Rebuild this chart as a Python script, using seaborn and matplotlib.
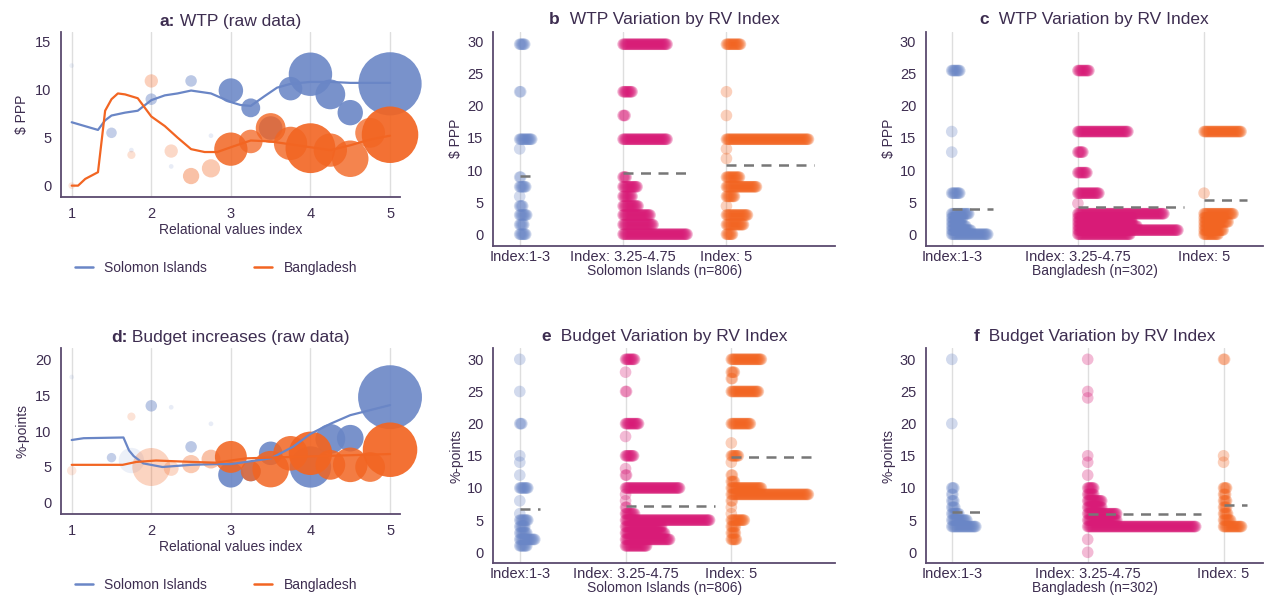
import numpy as np
import pandas as pd
import matplotlib
matplotlib.use("Agg")
import matplotlib.pyplot as plt
from matplotlib.lines import Line2D
from matplotlib.colors import to_rgba
from matplotlib.offsetbox import TextArea, HPacker, AnchoredOffsetbox
import seaborn as sns

# ==========================================
# colours
# ==========================================
BLUE = "#6a86c6"
ORANGE = "#f26522"
PINK = "#d81b77"
INK = "#3d2d50"
AXC = "#5b4a6e"
GRID = "#dedede"

# ==========================================
# panel a: WTP raw data (mean WTP per index value, n, shading)
# ==========================================
a_si_x = [1, 1.5, 1.75, 2, 2.25, 2.5, 2.75, 3, 3.25, 3.5, 3.75, 4, 4.25, 4.5, 5]
a_si_y = [12.5, 5.5, 3.7, 9.0, 2.0, 10.9, 5.2, 9.9, 8.1, 6.0, 10.1, 11.6, 9.5, 7.6, 10.6]
a_si_n = [1, 5, 1, 6, 1, 6, 1, 27, 16, 25, 25, 85, 40, 29, 180]
a_si_w = [0.12, 0.4, 0.15, 0.45, 0.15, 0.45, 0.15, 0.88, 0.85, 0.88, 0.88, 0.9, 0.9, 0.9, 0.9]

a_bd_x = [1, 1.75, 2, 2.25, 2.5, 2.75, 3, 3.25, 3.5, 3.75, 4, 4.25, 4.5, 4.75, 5]
a_bd_y = [0, 3.2, 10.9, 3.6, 1.0, 1.8, 3.8, 4.6, 6.0, 4.4, 3.9, 3.7, 2.8, 5.5, 5.3]
a_bd_n = [2, 3, 8, 8, 12, 15, 50, 25, 40, 50, 112, 50, 60, 40, 144]
a_bd_w = [0.15, 0.2, 0.3, 0.25, 0.4, 0.35, 0.85, 0.75, 0.8, 0.8, 0.9, 0.8, 0.8, 0.75, 0.92]

# smoothed lines
a_si_lx = [1, 1.33, 1.42, 1.5, 1.67, 1.83, 2, 2.17, 2.33, 2.5, 2.75, 3, 3.12, 3.25,
           3.42, 3.58, 3.75, 4, 4.25, 4.5, 5]
a_si_ly = [6.6, 5.8, 6.8, 7.3, 7.6, 7.8, 8.9, 9.4, 9.6, 9.9, 9.6, 8.7, 8.4, 8.3,
           9.3, 10.2, 10.6, 10.8, 10.8, 10.7, 10.7]
a_bd_lx = [1, 1.08, 1.17, 1.33, 1.42, 1.5, 1.58, 1.67, 1.83, 2, 2.17, 2.33, 2.5, 2.67,
           2.83, 3, 3.25, 3.5, 3.75, 4, 4.25, 4.5, 4.75, 5]
a_bd_ly = [0, 0, 0.7, 1.4, 7.8, 9.0, 9.6, 9.5, 9.1, 7.2, 6.2, 5.0, 3.8, 3.5,
           3.5, 4.0, 4.7, 4.6, 4.3, 4.0, 3.7, 4.2, 4.8, 5.2]

# ==========================================
# panel d: budget increases raw data
# ==========================================
d_si_x = [1, 1.5, 1.75, 2, 2.25, 2.5, 2.75, 3, 3.25, 3.5, 4, 4.25, 4.5, 5]
d_si_y = [17.5, 6.3, 5.9, 13.5, 13.3, 7.8, 11.0, 3.9, 4.4, 6.9, 5.0, 8.9, 9.0, 14.7]
d_si_n = [1, 4, 29, 6, 1, 6, 1, 29, 18, 25, 77, 40, 32, 184]
d_si_w = [0.12, 0.4, 0.12, 0.45, 0.15, 0.45, 0.15, 0.9, 0.85, 0.88, 0.9, 0.9, 0.9, 0.9]

d_bd_x = [1, 1.75, 2, 2.25, 2.5, 2.75, 3, 3.25, 3.5, 3.75, 4, 4.25, 4.5, 4.75, 5]
d_bd_y = [4.5, 12.0, 5.0, 4.8, 5.4, 6.1, 6.4, 4.4, 4.7, 6.9, 6.9, 5.3, 5.3, 5.0, 7.4]
d_bd_n = [4, 3, 65, 10, 15, 16, 46, 18, 60, 54, 85, 40, 54, 40, 134]
d_bd_w = [0.15, 0.18, 0.28, 0.25, 0.35, 0.4, 0.88, 0.75, 0.85, 0.85, 0.92, 0.85, 0.85, 0.8, 0.92]

d_si_lx = [1, 1.15, 1.65, 1.72, 1.78, 1.9, 2.14, 2.5, 2.8, 3.0, 3.5, 3.78, 4.0, 4.25, 4.5, 4.75, 5]
d_si_ly = [8.75, 9.0, 9.1, 7.3, 6.5, 5.5, 5.0, 5.3, 5.4, 5.4, 6.2, 7.8, 9.6, 11.0, 12.2, 12.9, 13.6]
d_bd_lx = [1, 1.64, 1.81, 2.06, 2.52, 2.81, 3.19, 3.78, 5]
d_bd_ly = [5.3, 5.3, 5.7, 5.9, 5.7, 5.6, 6.2, 6.4, 6.8]

# ==========================================
# panels b, c, e, f: frequency of each answer per index group
# ==========================================
groups = ["Index:1-3", "Index: 3.25-4.75", "Index: 5"]

b_vals = [29.6, 22.2, 18.5, 14.8, 13.3, 11.8, 8.9, 7.4, 5.9, 4.4, 3.0, 1.5, 0.0]
b_g1 = [6, 2, 0, 13, 1, 0, 2, 7, 1, 4, 8, 5, 7]
b_g2 = [45, 10, 3, 45, 0, 0, 4, 15, 10, 16, 28, 31, 65]
b_g3 = [15, 1, 1, 83, 1, 1, 14, 31, 9, 1, 22, 18, 7]
b_means = [9.1, 9.5, 10.8]

c_vals = [25.5, 16.0, 12.8, 9.6, 6.4, 4.8, 3.2, 2.56, 1.92, 1.28, 0.64, 0.0]
c_g1 = [9, 1, 1, 0, 9, 0, 18, 12, 10, 15, 20, 37]
c_g2 = [12, 51, 6, 10, 22, 1, 87, 55, 55, 60, 101, 53]
c_g3 = [0, 38, 0, 0, 1, 0, 30, 20, 25, 15, 20, 15]
c_means = [3.9, 4.3, 5.3]

e_vals = [30, 28, 27, 25, 20, 18, 17, 15, 14, 13, 12, 11, 10, 9, 8, 7, 6, 5, 4, 3, 2, 1]
e_g1 = [1, 0, 0, 1, 3, 0, 0, 1, 1, 0, 1, 0, 9, 0, 1, 0, 1, 9, 6, 8, 16, 8]
e_g2 = [10, 1, 0, 2, 14, 1, 0, 9, 0, 1, 2, 0, 55, 1, 1, 2, 10, 85, 37, 40, 45, 22]
e_g3 = [31, 4, 2, 28, 20, 0, 1, 8, 1, 0, 2, 4, 31, 78, 2, 1, 1, 14, 5, 5, 6, 0]
e_means = [6.7, 7.2, 14.8]

f_vals = [30, 25, 24, 20, 15, 14, 12, 10, 9, 8, 7, 6, 5, 4, 2, 0]
f_g1 = [1, 0, 0, 1, 0, 0, 0, 3, 2, 3, 4, 8, 16, 25, 0, 0]
f_g2 = [1, 1, 1, 0, 1, 1, 1, 7, 7, 15, 15, 30, 30, 109, 1, 1]
f_g3 = [2, 0, 0, 0, 1, 1, 0, 4, 3, 4, 4, 5, 8, 19, 0, 0]
f_means = [6.2, 5.9, 7.4]

# ==========================================
# style
# ==========================================
sns.set_theme(style="white")
plt.rcParams["font.family"] = ["Liberation Sans", "DejaVu Sans"]
plt.rcParams["text.color"] = INK
plt.rcParams["axes.labelcolor"] = INK
plt.rcParams["xtick.color"] = INK
plt.rcParams["ytick.color"] = INK

W, H = 1264, 602
fig = plt.figure(figsize=(W / 100, H / 100), dpi=100)

TICK_FS = 10.5
LAB_FS = 10
TITLE_FS = 12.5


def style_axes(ax):
    sns.despine(ax=ax)
    for sp in ["left", "bottom"]:
        ax.spines[sp].set_color(AXC)
        ax.spines[sp].set_linewidth(1.3)
    ax.tick_params(axis="y", length=4, width=1, color=AXC, labelsize=TICK_FS, pad=3)
    ax.tick_params(axis="x", labelsize=TICK_FS)


def panel_title(ax, letter, text):
    # bold letter followed by normal text, centred over the axes
    parts = [TextArea(letter, textprops=dict(fontsize=TITLE_FS, fontweight="bold", color=INK)),
             TextArea(text, textprops=dict(fontsize=TITLE_FS, color=INK))]
    box = HPacker(children=parts, align="baseline", pad=0, sep=0)
    anch = AnchoredOffsetbox(loc="lower center", child=box, pad=0, frameon=False,
                             bbox_to_anchor=(0.5, 1.02), bbox_transform=ax.transAxes,
                             borderpad=0)
    ax.add_artist(anch)


def bubbles(ax, x, y, n, w, color):
    sns.scatterplot(x=x, y=y, size=n, sizes=(0, 2300), size_norm=(0, 200),
                    color=color, linewidth=0, legend=False, ax=ax, zorder=2)
    coll = ax.collections[-1]
    coll.set_facecolor([to_rgba(color, a) for a in w])
    coll.set_edgecolor("none")
    coll.set_clip_on(False)


def raw_panel(rect, letter, title, ylabel, ylim, yticks, si, bd, si_l, bd_l, leg_y):
    ax = fig.add_axes(rect)
    for xv in range(1, 6):
        ax.axvline(xv, color=GRID, lw=1, zorder=0)
    bubbles(ax, *si, BLUE)
    sns.lineplot(x=si_l[0], y=si_l[1], color=BLUE, lw=1.6, ax=ax, zorder=3)
    bubbles(ax, *bd, ORANGE)
    sns.lineplot(x=bd_l[0], y=bd_l[1], color=ORANGE, lw=1.6, ax=ax, zorder=5)
    ax.set_xlim(0.866, 5.126)
    ax.set_ylim(*ylim)
    ax.set_xticks([1, 2, 3, 4, 5])
    ax.set_yticks(yticks)
    ax.set_xlabel("Relational values index", fontsize=LAB_FS, labelpad=2)
    ax.set_ylabel(ylabel, fontsize=LAB_FS, labelpad=4)
    panel_title(ax, letter, title)
    style_axes(ax)
    ax.tick_params(axis="x", length=4, width=1, color=AXC, pad=3)
    handles = [Line2D([], [], color=BLUE, lw=1.8), Line2D([], [], color=ORANGE, lw=1.8)]
    fig.legend(handles, ["Solomon Islands", "Bangladesh"], loc="center",
               bbox_to_anchor=(0.171, leg_y), ncol=2, frameon=False, fontsize=LAB_FS,
               handlelength=1.3, columnspacing=3.4, labelcolor=INK)
    return ax


STEP_PX = 1.0
DOT_R_PX = 5.7


def strip_panel(rect, letter, title, ylabel, xlabel, xlim, ylim, vals, counts, means):
    ax = fig.add_axes(rect)
    rows = []
    for g, cnt in enumerate(counts):
        for v, c in zip(vals, cnt):
            for k in range(c):
                rows.append((g, v, k))
    df = pd.DataFrame(rows, columns=["grp", "value", "rank"])
    px_per_unit = rect[2] * W / (xlim[1] - xlim[0])
    step = STEP_PX / px_per_unit
    df["xpos"] = df["grp"] + 1 + df["rank"] * step
    for g in range(3):
        ax.axvline(g + 1, color=GRID, lw=1, zorder=0)
    sns.scatterplot(data=df, x="xpos", y="value", hue="grp",
                    palette=[BLUE, PINK, ORANGE], s=70, alpha=0.3,
                    linewidth=0, legend=False, ax=ax, zorder=2)
    for g, cnt in enumerate(counts):
        x_end = g + 1 + (max(cnt) - 1) * step + DOT_R_PX / px_per_unit
        ax.plot([g + 1, x_end], [means[g], means[g]], color="#777777", lw=1.8,
                ls=(0, (4, 3)), zorder=4)
    ax.set_xlim(*xlim)
    ax.set_ylim(*ylim)
    ax.set_xticks([1, 2, 3])
    ax.set_xticklabels(groups)
    ax.set_yticks(range(0, 31, 5))
    ax.set_xlabel(xlabel, fontsize=LAB_FS, labelpad=0)
    ax.set_ylabel(ylabel, fontsize=LAB_FS, labelpad=3)
    panel_title(ax, letter, title)
    style_axes(ax)
    ax.tick_params(axis="x", length=0, pad=3)
    return ax


# ==========================================
# draw
# ==========================================
raw_panel([0.0483, 0.6728, 0.2682, 0.2741], "a:", " WTP (raw data)", "$ PPP",
          (-1.18, 16.0), [0, 5, 10, 15],
          (a_si_x, a_si_y, a_si_n, a_si_w), (a_bd_x, a_bd_y, a_bd_n, a_bd_w),
          (a_si_lx, a_si_ly), (a_bd_lx, a_bd_ly), 0.555)

raw_panel([0.0483, 0.1462, 0.2682, 0.2752], "d:", " Budget increases (raw data)",
          "%-points", (-1.53, 21.49), [0, 5, 10, 15, 20],
          (d_si_x, d_si_y, d_si_n, d_si_w), (d_bd_x, d_bd_y, d_bd_n, d_bd_w),
          (d_si_lx, d_si_ly), (d_bd_lx, d_bd_ly), 0.028)

strip_panel([0.3903, 0.5919, 0.2703, 0.3555], "b", "  WTP Variation by RV Index",
            "$ PPP", "Solomon Islands (n=806)", (0.745, 4.05), (-1.78, 31.56),
            b_vals, [b_g1, b_g2, b_g3], b_means)

strip_panel([0.7326, 0.5919, 0.2666, 0.3555], "c", "  WTP Variation by RV Index",
            "$ PPP", "Bangladesh (n=302)", (0.796, 3.467), (-1.78, 31.56),
            c_vals, [c_g1, c_g2, c_g3], c_means)

strip_panel([0.3903, 0.0643, 0.2703, 0.3571], "e", "  Budget Variation by RV Index",
            "%-points", "Solomon Islands (n=806)", (0.75, 3.98), (-1.71, 31.71),
            e_vals, [e_g1, e_g2, e_g3], e_means)

strip_panel([0.7326, 0.0643, 0.2666, 0.3571], "f", "  Budget Variation by RV Index",
            "%-points", "Bangladesh (n=302)", (0.81, 3.29), (-1.71, 31.71),
            f_vals, [f_g1, f_g2, f_g3], f_means)

fig.savefig("out.png", dpi=100, facecolor="white")
